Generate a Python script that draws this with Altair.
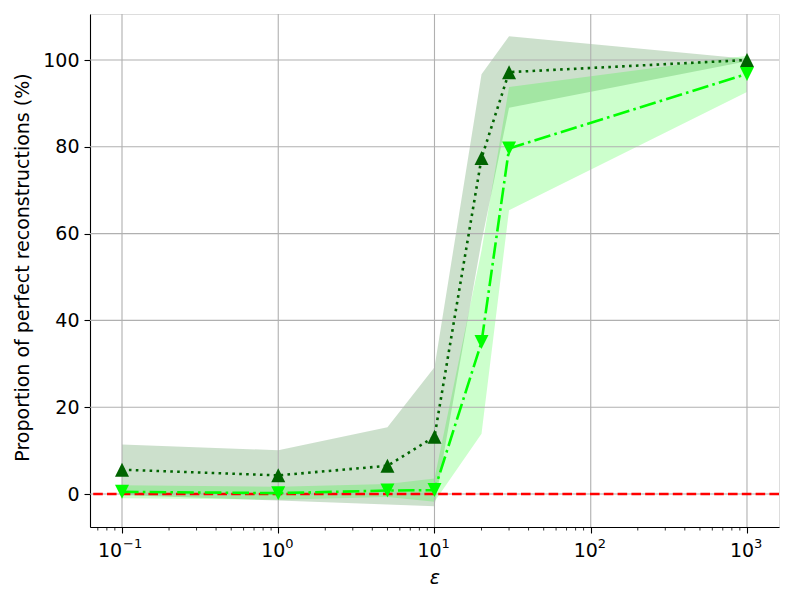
import altair as alt
import pandas as pd

# data
eps = [0.1, 1, 5, 10, 20, 30, 1000]
dark_mean = [5.6, 4.3, 6.5, 13.2, 77.4, 97.2, 100.0]
dark_lo = [-0.2, -1.5, -2.4, -2.8, 58.2, 89.0, 99.7]
dark_hi = [11.4, 10.1, 15.4, 29.2, 96.7, 105.5, 100.3]
light_mean = [0.5, 0.2, 0.8, 0.9, 35.0, 79.6, 96.8]
light_lo = [-1.0, -1.3, -0.7, -1.8, 13.9, 65.4, 92.6]
light_hi = [2.0, 1.7, 2.3, 3.6, 56.1, 93.8, 101.0]
major_ticks = [0.1, 1, 10, 100, 1000]
exponents = ["−1", "0", "1", "2", "3"]
minor_ticks = [0.07, 0.08, 0.09] + [m * 10.0 ** k for k in (-1, 0, 1, 2) for m in range(2, 10)]
y_ticks = [0, 20, 40, 60, 80, 100]

W, H = 689, 513
FONT = "DejaVu Sans"
FS = 19

dark = pd.DataFrame({"eps": eps, "mean": dark_mean, "lo": dark_lo, "hi": dark_hi})
light = pd.DataFrame({"eps": eps, "mean": light_mean, "lo": light_lo, "hi": light_hi})
minor = pd.DataFrame({"eps": minor_ticks})
majors = pd.DataFrame({"eps": major_ticks, "exp": exponents})
ygrid = pd.DataFrame({"y": y_ticks})
ref = pd.DataFrame({"y": [0]})

xscale = alt.Scale(type="log", domain=[0.0624, 1603], nice=False)
yscale = alt.Scale(domain=[-7.6, 110.6], nice=False, zero=False)

xaxis = alt.Axis(values=major_ticks, labelExpr="'10'", title="ε",
                 titleFontStyle="italic", titleFontWeight="normal",
                 titleFontSize=FS, titleY=56, titleBaseline="alphabetic",
                 labelFontSize=FS, labelBaseline="alphabetic", labelPadding=23,
                 labelOffset={"condition": {"test": "datum.value < 0.5", "value": -12.5},
                              "value": -5.5},
                 tickSize=6, tickWidth=1.1, tickColor="black", domainColor="black",
                 domainWidth=1.1, grid=False, labelFlush=False,
                 labelColor="black", titleColor="black")
yaxis = alt.Axis(values=y_ticks, title="Proportion of perfect reconstructions (%)",
                 titleFontWeight="normal", titleFontSize=FS, titleX=-68,
                 titleY=253, titleBaseline="middle", labelFontSize=FS, labelPadding=5,
                 tickSize=6, tickWidth=1.1, tickColor="black", domainColor="black",
                 domainWidth=1.1, grid=False, labelColor="black", titleColor="black")

X = alt.X("eps:Q", scale=xscale)

band_dark = alt.Chart(dark).mark_area(color="darkgreen", opacity=0.2).encode(
    x=alt.X("eps:Q", scale=xscale, axis=xaxis),
    y=alt.Y("lo:Q", scale=yscale, axis=yaxis), y2="hi:Q")
band_light = alt.Chart(light).mark_area(color="lime", opacity=0.2).encode(
    x=X, y=alt.Y("lo:Q", scale=yscale), y2="hi:Q")

grid_x = alt.Chart(majors).mark_rule(color="#b0b0b0", strokeWidth=1.1).encode(x=X)
grid_y = alt.Chart(ygrid).mark_rule(color="#b0b0b0", strokeWidth=1.1).encode(
    y=alt.Y("y:Q", scale=yscale))

red = alt.Chart(ref).mark_rule(color="red", strokeWidth=2.4, strokeDash=[9.6, 4.2]).encode(
    y=alt.Y("y:Q", scale=yscale))

TRI_UP = "M0,-1L-1,1L1,1Z"
TRI_DOWN = "M0,1L-1,-1L1,-1Z"

line_dark = alt.Chart(dark).mark_line(color="darkgreen", strokeWidth=2.6,
                                      strokeDash=[2.6, 4.3]).encode(
    x=X, y=alt.Y("mean:Q", scale=yscale))
pts_dark = alt.Chart(dark).mark_point(shape=TRI_UP, filled=True, opacity=1,
                                      color="darkgreen", size=196, strokeWidth=0).encode(
    x=X, y=alt.Y("mean:Q", scale=yscale))
line_light = alt.Chart(light).mark_line(color="lime", strokeWidth=2.6,
                                        strokeDash=[16.6, 4.2, 2.6, 4.2]).encode(
    x=X, y=alt.Y("mean:Q", scale=yscale))
pts_light = alt.Chart(light).mark_point(shape=TRI_DOWN, filled=True, opacity=1,
                                        color="lime", size=196, strokeWidth=0).encode(
    x=X, y=alt.Y("mean:Q", scale=yscale))

minor_rule = alt.Chart(minor).mark_rule(color="black", strokeWidth=0.8).encode(
    x=X, y=alt.value(H), y2=alt.value(H + 3.5))

exp_neg = alt.Chart(majors).transform_filter("datum.eps < 0.5").mark_text(
    align="left", baseline="alphabetic", fontSize=13, font=FONT, color="black", dx=1
).encode(x=X, y=alt.value(H + 21), text="exp:N")
exp_pos = alt.Chart(majors).transform_filter("datum.eps >= 0.5").mark_text(
    align="left", baseline="alphabetic", fontSize=13, font=FONT, color="black", dx=7
).encode(x=X, y=alt.value(H + 21), text="exp:N")

chart = alt.layer(
    band_dark, band_light, grid_x, grid_y, red, line_dark, pts_dark,
    line_light, pts_light, minor_rule, exp_neg, exp_pos
).properties(
    width=W, height=H,
    autosize=alt.AutoSizeParams(type="none"),
    padding={"left": 82, "top": 6, "right": 6, "bottom": 67},
).configure_view(
    stroke="black", strokeWidth=1.1
).configure(
    font=FONT, background="white"
)

chart.save("out.html", embed_options={"renderer": "svg", "actions": False})
